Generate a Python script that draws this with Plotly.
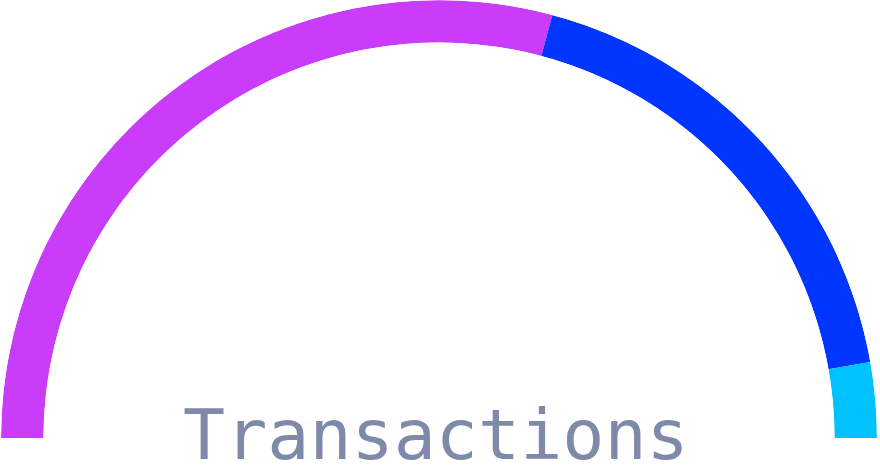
import plotly.graph_objects as go

labels = ["Completed", "Pending", "Failed"]
values = [1050, 650, 100]
colors = ["#c93cfa", "#0036ff", "#00c2ff"]
title_text = "Transactions"

total = sum(values)
widths = [v / total * 180 for v in values]
thetas = []
acc = 0
for w in widths:
    thetas.append(acc + w / 2)
    acc += w

fig = go.Figure()
fig.add_trace(go.Barpolar(
    r=[1] * len(values),
    theta=thetas,
    width=widths,
    base=0,
    marker=dict(color=colors, line=dict(width=0)),
    text=labels,
    customdata=values,
    hovertemplate="%{text}: %{customdata}<extra></extra>",
    showlegend=False,
))

fig.update_layout(
    width=880, height=476,
    margin=dict(l=1, r=3, t=0, b=38),
    paper_bgcolor="white",
    plot_bgcolor="white",
    polar=dict(
        sector=[0, 180],
        hole=0.903,
        bgcolor="rgba(0,0,0,0)",
        radialaxis=dict(visible=False, range=[0, 1]),
        angularaxis=dict(visible=False, rotation=180, direction="clockwise",
                         thetaunit="degrees"),
    ),
    annotations=[dict(
        text=title_text, x=0.497, y=0, xref="paper", yref="paper",
        xanchor="center", yanchor="middle", showarrow=False, yshift=3,
        font=dict(family="DejaVu Sans Mono", size=70, color="#7f8aab"),
    )],
)

fig.write_html("out.html")
